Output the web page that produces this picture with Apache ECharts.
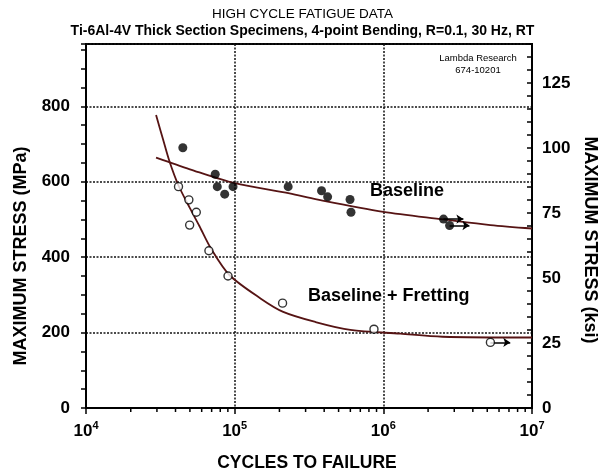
<!DOCTYPE html>
<html><head><meta charset="utf-8">
<script src="https://cdn.jsdelivr.net/npm/echarts@6/dist/echarts.min.js"></script>
<style>html,body{margin:0;padding:0;background:#fff}#c{width:605px;height:474px}</style>
</head><body><div id="c"></div>
<script>
// ---- data ----
const baselineN = [44800, 74000, 76400, 85700, 97500, 229000, 384000, 422000, 597000, 606000, 2540000, 2790000];
const baselineS = [690, 620, 587, 567, 587, 587, 576, 560, 553, 519, 501, 484];
const baselineRunout = [false, false, false, false, false, false, false, false, false, false, true, true];

const frettingN = [41900, 49200, 55200, 49800, 67100, 90200, 210000, 865000, 5250000];
const frettingS = [587, 552, 519, 485, 417, 350, 278, 209, 174];
const frettingRunout = [false, false, false, false, false, false, false, false, true];

const baselineCurveN = [29600, 50000, 100000, 234000, 356000, 1000000, 2540000, 5250000, 10000000];
const baselineCurveS = [664, 633, 596, 569, 553, 520, 500, 485, 476];

const frettingCurveN = [29600, 33000, 36500, 41900, 50000, 58000, 70000, 92500, 150000, 212000, 350000, 600000, 1300000, 2500000, 10000000];
const frettingCurveS = [777, 712, 653, 590, 530, 482, 420, 352, 290, 255, 228, 207, 197, 189, 187];

const xDecades = [4, 5, 6, 7];
const mpaTicks = [0, 200, 400, 600, 800];
const ksiTicks = [0, 25, 50, 75, 100, 125];
const KSI_MAX = 140;
const MPA_PER_KSI = 6.894757;

// ---- helpers ----
const FONT = 'Liberation Sans, Arial, Helvetica, sans-serif';
const zip = (a, b) => a.map((v, i) => [v, b[i]]);
const minorTickValues = [];
for (let k = xDecades[0]; k < xDecades[xDecades.length - 1]; k++) {
  for (let d = 2; d <= 9; d++) minorTickValues.push(d * Math.pow(10, k));
}
const ARROW_FACTOR = 1.36;
function runoutArrows(N, S, flags) {
  const out = [];
  N.forEach((n, i) => {
    if (flags[i]) out.push([{ coord: [n, S[i]] }, { coord: [n * ARROW_FACTOR, S[i]] }]);
  });
  return out;
}
const mpaMax = KSI_MAX * MPA_PER_KSI;
const curveColor = '#561414';

const chart = echarts.init(document.getElementById('c'), null, { renderer: 'canvas' });
chart.setOption({
  animation: false,
  backgroundColor: '#fff',
  textStyle: { fontFamily: FONT },
  grid: { left: 86, right: 73, top: 44, bottom: 66, show: true, borderColor: '#000', borderWidth: 2, containLabel: false },
  xAxis: [{
    type: 'log', logBase: 10, min: Math.pow(10, xDecades[0]), max: Math.pow(10, xDecades[xDecades.length - 1]),
    axisLine: { show: true, lineStyle: { color: '#000', width: 2 } },
    axisTick: { show: true, length: 6, lineStyle: { color: '#000', width: 1.5 } },
    axisLabel: {
      margin: 12, color: '#000',
      formatter: v => '{b|10}{s|' + Math.round(Math.log10(v)) + '}',
      rich: {
        b: { fontSize: 17, fontWeight: 'bold', fontFamily: FONT, lineHeight: 22, color: '#000' },
        s: { fontSize: 11, fontWeight: 'bold', fontFamily: FONT, lineHeight: 12, verticalAlign: 'top', color: '#000' }
      }
    },
    splitLine: { show: true, lineStyle: { color: '#111', width: 1.5, type: [2, 1.5] } }
  }],
  yAxis: [{
    type: 'value', position: 'left', min: 0, max: mpaMax, interval: 50,
    axisLine: { show: true, lineStyle: { color: '#000', width: 2 } },
    axisTick: { show: true, length: 5, lineStyle: { color: '#000', width: 1.5 } },
    axisLabel: {
      margin: 16, color: '#000', fontSize: 17, fontWeight: 'bold', fontFamily: FONT,
      formatter: v => (mpaTicks.indexOf(Math.round(v)) >= 0 && Math.abs(v - Math.round(v)) < 1e-6) ? String(Math.round(v)) : ''
    },
    splitLine: { show: false }
  }, {
    type: 'value', position: 'right', min: 0, max: KSI_MAX, interval: 5,
    axisLine: { show: true, lineStyle: { color: '#000', width: 2 } },
    axisTick: { show: true, inside: true, length: 5, lineStyle: { color: '#000', width: 1.5 } },
    axisLabel: {
      margin: 10, color: '#000', fontSize: 17, fontWeight: 'bold', fontFamily: FONT,
      formatter: v => ksiTicks.indexOf(Math.round(v)) >= 0 ? String(Math.round(v)) : ''
    },
    splitLine: { show: false }
  }, {
    type: 'value', position: 'left', min: 0, max: mpaMax, interval: 200,
    axisLine: { show: false }, axisTick: { show: false }, axisLabel: { show: false },
    splitLine: { show: true, lineStyle: { color: '#111', width: 1.5, type: [2, 1.5] } }
  }],
  series: [
    {
      name: 'Baseline curve', type: 'line', xAxisIndex: 0, yAxisIndex: 0,
      data: zip(baselineCurveN, baselineCurveS), smooth: 0.3, symbol: 'none',
      lineStyle: { color: curveColor, width: 1.8 }, z: 3, silent: true
    },
    {
      name: 'Fretting curve', type: 'line', xAxisIndex: 0, yAxisIndex: 0,
      data: zip(frettingCurveN, frettingCurveS), smooth: 0.3, symbol: 'none',
      lineStyle: { color: curveColor, width: 1.8 }, z: 3, silent: true
    },
    {
      name: 'Baseline', type: 'scatter', xAxisIndex: 0, yAxisIndex: 0,
      data: zip(baselineN, baselineS), symbol: 'circle', symbolSize: 9,
      itemStyle: { color: '#000' }, z: 5,
      markLine: {
        silent: true, symbol: ['none', 'arrow'], symbolSize: 7, label: { show: false },
        lineStyle: { color: '#000', width: 1.5, type: 'solid' },
        data: runoutArrows(baselineN, baselineS, baselineRunout)
      }
    },
    {
      name: 'Baseline + Fretting', type: 'scatter', xAxisIndex: 0, yAxisIndex: 0,
      data: zip(frettingN, frettingS), symbol: 'circle', symbolSize: 8,
      itemStyle: { color: '#fff', borderColor: '#000', borderWidth: 1.4 }, z: 6,
      markLine: {
        silent: true, symbol: ['none', 'arrow'], symbolSize: 7, label: { show: false },
        lineStyle: { color: '#000', width: 1.5, type: 'solid' },
        data: runoutArrows(frettingN, frettingS, frettingRunout)
      }
    },
    {
      name: 'minor ticks', type: 'custom', xAxisIndex: 0, yAxisIndex: 0, silent: true, clip: false, z: 10,
      data: minorTickValues.map(v => [v, 0]),
      renderItem: (params, api) => {
        const p = api.coord([api.value(0), 0]);
        return { type: 'line', shape: { x1: p[0], y1: p[1], x2: p[0], y2: p[1] + 4 }, style: { stroke: '#000', lineWidth: 1.5 } };
      }
    }
  ],
  graphic: [
    { type: 'text', left: 'center', top: 7, style: { text: 'HIGH CYCLE FATIGUE DATA', fontSize: 13.5, fontFamily: FONT, fill: '#000' } },
    { type: 'text', left: 'center', top: 24, style: { text: 'Ti-6Al-4V Thick Section Specimens, 4-point Bending, R=0.1, 30 Hz, RT', fontSize: 14, fontWeight: 'bold', fontFamily: FONT, fill: '#000' } },
    { type: 'text', x: 478, y: 52, style: { text: 'Lambda Research\n674-10201', fontSize: 9.5, lineHeight: 12, fontFamily: FONT, fill: '#000', align: 'center' } },
    { type: 'text', x: 370, y: 191, style: { text: 'Baseline', fontSize: 18, fontWeight: 'bold', fontFamily: FONT, fill: '#000', verticalAlign: 'middle' } },
    { type: 'text', x: 308, y: 296, style: { text: 'Baseline + Fretting', fontSize: 18, fontWeight: 'bold', fontFamily: FONT, fill: '#000', verticalAlign: 'middle' } },
    { type: 'text', x: 21, y: 256, rotation: Math.PI / 2, style: { text: 'MAXIMUM STRESS (MPa)', fontSize: 18, fontWeight: 'bold', fontFamily: FONT, fill: '#000', align: 'center', verticalAlign: 'middle' } },
    { type: 'text', x: 590, y: 240, rotation: -Math.PI / 2, style: { text: 'MAXIMUM STRESS (ksi)', fontSize: 18, fontWeight: 'bold', fontFamily: FONT, fill: '#000', align: 'center', verticalAlign: 'middle' } },
    { type: 'text', x: 307, y: 463, style: { text: 'CYCLES TO FAILURE', fontSize: 17.5, fontWeight: 'bold', fontFamily: FONT, fill: '#000', align: 'center', verticalAlign: 'middle' } }
  ]
});
</script>
</body></html>
